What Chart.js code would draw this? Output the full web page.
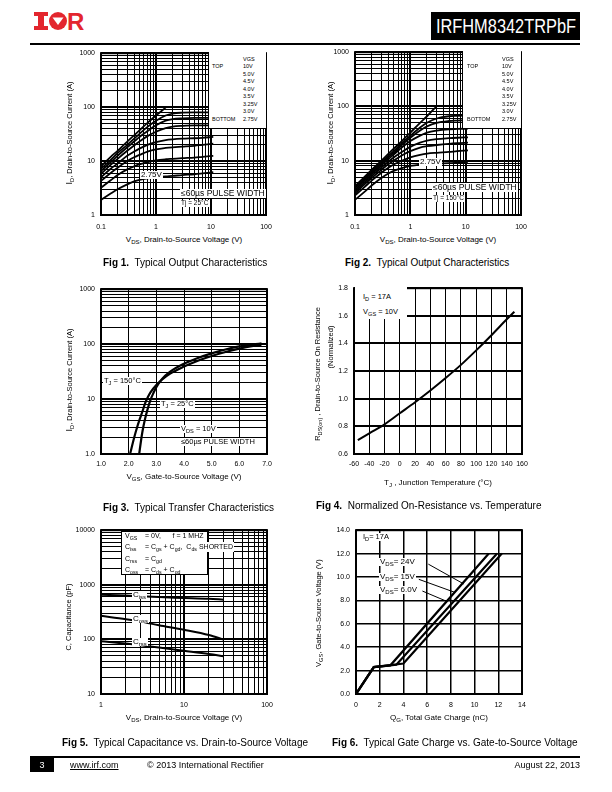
<!DOCTYPE html>
<html><head><meta charset="utf-8">
<script src="https://cdn.jsdelivr.net/npm/chart.js@4.4.0/dist/chart.umd.min.js"></script>
<style>
html,body{margin:0;padding:0;background:#fff;}
body{width:612px;height:792px;position:relative;overflow:hidden;font-family:"Liberation Sans",Arial,Helvetica,sans-serif;color:#000;}
canvas{position:absolute;}
.a{position:absolute;white-space:nowrap;line-height:1;}
sub{font-size:75%;vertical-align:-0.3em;line-height:0;}
.yt{position:absolute;white-space:nowrap;width:200px;height:10px;line-height:10px;text-align:center;font-size:7.5px;transform:rotate(-90deg);transform-origin:100px 5px;}
.xt{position:absolute;white-space:nowrap;width:200px;height:10px;line-height:10px;text-align:center;font-size:8px;}
.wb{background:#fff;padding:0 1px;}
.fig{position:absolute;white-space:nowrap;font-size:10px;line-height:1;}
.lg{position:absolute;white-space:nowrap;font-size:5.5px;line-height:1;}
</style></head>
<body>
<!-- header -->
<svg width="50" height="20" style="position:absolute;left:34px;top:11px">
  <rect x="0" y="1" width="14" height="4" fill="#e3262e"/>
  <rect x="4" y="1" width="6" height="18" fill="#e3262e"/>
  <rect x="0" y="15" width="14" height="4" fill="#e3262e"/>
  <circle cx="24" cy="10" r="9" fill="#e3262e"/>
  <polygon points="18.5,6.5 29.5,6.5 24,14" fill="#fff"/>
  <text x="33" y="19" font-family="Liberation Sans, Arial" font-weight="bold" font-size="24" fill="#e3262e">R</text>
</svg>
<div class="a" style="left:431px;top:12px;width:149px;height:28px;background:#000;overflow:hidden;">
  <span style="position:absolute;left:50%;top:0;color:#fff;font-size:21px;line-height:28px;transform:translateX(-50%) scaleX(0.78);">IRFHM8342TRPbF</span>
</div>
<div class="a" style="left:30px;top:43px;width:550px;height:2px;background:#000"></div>

<canvas id="c1"></canvas><canvas id="c2"></canvas><canvas id="c3"></canvas>
<canvas id="c4"></canvas><canvas id="c5"></canvas><canvas id="c6"></canvas>

<!-- Fig 1 overlays -->
<div class="yt" style="left:-31px;top:128px"><span style="font-size:9px">I</span><sub>D</sub>, Drain-to-Source Current (A)</div>
<div class="xt" style="left:84px;top:235px">V<sub>DS</sub>, Drain-to-Source Voltage (V)</div>
<div id="lg1" class="a" style="left:208px;top:52px;width:57px;height:76px;background:#fff;border-left:1px solid #000;border-bottom:1px solid #000;"></div>
<div class="a wb" style="left:140px;top:171px;font-size:8px">2.75V</div>
<div class="a wb" style="left:180px;top:189px;font-size:8.5px">≤60µs PULSE WIDTH</div>
<div class="a wb" style="left:180px;top:200px;font-size:6.5px">Tj = 25°C</div>
<div class="fig" style="left:103px;top:258px"><b>Fig 1.</b>&nbsp; Typical Output Characteristics</div>

<!-- Fig 2 overlays -->
<div class="yt" style="left:230px;top:128px"><span style="font-size:9px">I</span><sub>D</sub>, Drain-to-Source Current (A)</div>
<div class="xt" style="left:338px;top:235px">V<sub>DS</sub>, Drain-to-Source Voltage (V)</div>
<div id="lg2" class="a" style="left:462px;top:51px;width:58px;height:77px;background:#fff;border-left:1px solid #000;border-bottom:1px solid #000;"></div>
<div class="a wb" style="left:419px;top:158px;font-size:8px">2.75V</div>
<div class="a wb" style="left:432px;top:183px;font-size:8.5px">≤60µs PULSE WIDTH</div>
<div class="a wb" style="left:432px;top:195px;font-size:6.5px">Tj = 150°C</div>
<div class="fig" style="left:345px;top:258px"><b>Fig 2.</b>&nbsp; Typical Output Characteristics</div>

<!-- Fig 3 overlays -->
<div class="yt" style="left:-31px;top:375px"><span style="font-size:9px">I</span><sub>D</sub>, Drain-to-Source Current (A)</div>
<div class="xt" style="left:84px;top:472px">V<sub>GS</sub>, Gate-to-Source Voltage (V)</div>
<div class="a wb" style="left:103px;top:377px;font-size:7.5px">T<sub>J</sub> = 150°C</div>
<div class="a wb" style="left:160px;top:400px;font-size:7.5px">T<sub>J</sub> = 25°C</div>
<div class="a wb" style="left:180px;top:425px;font-size:7.5px">V<sub>DS</sub> = 10V</div>
<div class="a wb" style="left:180px;top:438px;font-size:7.5px">≤60µs PULSE WIDTH</div>
<div class="fig" style="left:103px;top:503px"><b>Fig 3.</b>&nbsp; Typical Transfer Characteristics</div>

<!-- Fig 4 overlays -->
<div class="yt" style="left:218px;top:369px">R<sub>DS(on)</sub> , Drain-to-Source On Resistance</div>
<div class="yt" style="left:231px;top:342px">(Normalized)</div>
<div class="xt" style="left:338px;top:478px">T<sub>J</sub> , Junction Temperature (°C)</div>
<div class="a" style="left:355px;top:287px;width:52px;height:32px;background:#fff"></div>
<div class="a" style="left:363px;top:293px;font-size:7.5px">I<sub>D</sub> = 17A</div>
<div class="a" style="left:363px;top:308px;font-size:7.5px">V<sub>GS</sub> = 10V</div>
<div class="fig" style="left:316px;top:501px"><b>Fig 4.</b>&nbsp; Normalized On-Resistance vs. Temperature</div>

<!-- Fig 5 overlays -->
<div class="yt" style="left:-31px;top:612px">C, Capacitance (pF)</div>
<div class="xt" style="left:84px;top:713px">V<sub>DS</sub>, Drain-to-Source Voltage (V)</div>
<div class="a" style="left:121px;top:531px;width:85px;height:42px;background:#fff;border:1px solid #000;"></div>
<div class="a" style="left:125px;top:532px;font-size:7px">V<sub>GS</sub></div><div class="a" style="left:145px;top:532px;font-size:7px">= 0V,&nbsp;&nbsp;&nbsp;&nbsp;&nbsp; f = 1 MHZ</div>
<div class="a" style="left:125px;top:543px;font-size:7px">C<sub>iss</sub></div><div class="a wb" style="left:145px;top:542px;font-size:7px;padding:1px 1px 2px 0">= C<sub>gs</sub> + C<sub>gd</sub>, &nbsp;C<sub>ds</sub> SHORTED</div>
<div class="a" style="left:125px;top:555px;font-size:7px">C<sub>rss</sub></div><div class="a" style="left:145px;top:555px;font-size:7px">= C<sub>gd</sub></div>
<div class="a" style="left:125px;top:566px;font-size:7px">C<sub>oss</sub></div><div class="a" style="left:145px;top:566px;font-size:7px">= C<sub>ds</sub> + C<sub>gd</sub></div>
<div class="a wb" style="left:132px;top:591px;font-size:8px">C<sub>iss</sub></div>
<div class="a wb" style="left:132px;top:615px;font-size:8px">C<sub>oss</sub></div>
<div class="a wb" style="left:132px;top:638px;font-size:8px">C<sub>rss</sub></div>
<div class="fig" style="left:62px;top:738px"><b>Fig 5.</b>&nbsp; Typical Capacitance vs. Drain-to-Source Voltage</div>

<!-- Fig 6 overlays -->
<div class="yt" style="left:219px;top:608px">V<sub>GS</sub>, Gate-to-Source Voltage (V)</div>
<div class="xt" style="left:339px;top:713px">Q<sub>G</sub>, Total Gate Charge (nC)</div>
<div class="a wb" style="left:362px;top:533px;font-size:7.5px">I<sub>D</sub>= 17A</div>
<div class="a wb" style="left:379px;top:558px;font-size:8px">V<sub>DS</sub>= 24V</div>
<div class="a wb" style="left:379px;top:573px;font-size:8px">V<sub>DS</sub>= 15V</div>
<div class="a wb" style="left:379px;top:586px;font-size:8px">V<sub>DS</sub>= 6.0V</div>
<div class="fig" style="left:332px;top:738px"><b>Fig 6.</b>&nbsp; Typical Gate Charge vs. Gate-to-Source Voltage</div>

<!-- footer -->
<div class="a" style="left:30px;top:756px;width:550px;height:2px;background:#000"></div>
<div class="a" style="left:30px;top:758px;width:24px;height:14px;background:#000;color:#fff;font-size:9px;line-height:14px;text-align:center">3</div>
<div class="a" style="left:70px;top:761px;font-size:9px;text-decoration:underline">www.irf.com</div>
<div class="a" style="left:147px;top:761px;font-size:9px">© 2013 International Rectifier</div>
<div class="a" style="right:32px;top:761px;font-size:9px">August 22, 2013</div>

<script>
const FONT = '"Liberation Sans", Arial, sans-serif';

// ---------- Fig 1 : Typical output characteristics, Tj = 25°C ----------
const fig1Vds   = [0.1, 0.15, 0.2, 0.3, 0.4, 0.5, 0.7, 1, 1.5, 2, 3, 5, 7, 11];
const fig1Id10V  = [8, 12, 15.5, 23, 30, 37, 51, 70, 98, null, null, null, null, null];
const fig1Id5V   = [7.2, 10.5, 14, 20, 26, 32, 43, 56, 70, 76, 79, 80, 80, 80];
const fig1Id4V5  = [6.5, 9.5, 12.5, 18, 23, 28, 36, 46, 56, 60, 62, 63, 63, 63];
const fig1Id4V   = [5.8, 8.5, 11, 15.5, 19.5, 23, 29, 35, 41, 43.5, 45, 46, 46, 46];
const fig1Id3V5  = [5.0, 7.2, 9, 12.5, 15, 17, 20, 22.5, 24.5, 25.3, 26, 26.5, 27, 28];
const fig1Id3V25 = [4.3, 6.0, 7.5, 10, 11.8, 13, 15, 16.5, 17.5, 18, 18.5, 19.2, 20, 21];
const fig1Id3V   = [3.2, 4.4, 5.5, 7, 8, 8.7, 9.5, 10.3, 10.8, 11, 11.3, 11.6, 12, 12.5];
const fig1Id2V75 = [1.9, 2.5, 3.0, 3.7, 4.2, 4.5, 4.8, 5.0, 5.2, 5.3, 5.5, 5.7, 5.9, 6.2];

// ---------- Fig 2 : Typical output characteristics, Tj = 150°C ----------
const fig2Vds   = [0.1, 0.15, 0.2, 0.3, 0.4, 0.5, 0.7, 1, 1.5, 2, 3, 5, 7, 11];
const fig2Id10V  = [3.4, 5.1, 6.8, 10, 13.4, 16.7, 23, 33, 50, 66, 102, null, null, null];
const fig2Id5V   = [3.2, 4.8, 6.3, 9.3, 12.3, 15, 21, 29, 41, 50, 60, 66, 67, 68];
const fig2Id4V5  = [3.1, 4.6, 6.0, 8.8, 11.5, 14, 19.5, 26.5, 36, 43, 50, 54, 55, 56];
const fig2Id4V   = [2.9, 4.3, 5.6, 8.2, 10.7, 13, 17.5, 23, 29, 33, 36, 38, 38.5, 39];
const fig2Id3V5  = [2.7, 4.0, 5.2, 7.5, 9.6, 11.5, 14.5, 18, 21.5, 23.5, 25, 26, 26.5, 27];
const fig2Id3V25 = [2.5, 3.7, 4.8, 6.8, 8.6, 10, 12.5, 15, 17.5, 18.5, 19.5, 20.5, 21, 21.5];
const fig2Id3V   = [2.3, 3.3, 4.3, 6, 7.4, 8.5, 10, 11.5, 12.8, 13.5, 14, 14.5, 15, 15.5];
const fig2Id2V75 = [1.9, 2.7, 3.5, 4.8, 5.8, 6.5, 7.3, 8, 8.5, 8.7, 8.8, 9, 9.2, 9.5];

const vgsLegend = ['10V', '5.0V', '4.5V', '4.0V', '3.5V', '3.25V', '3.0V', '2.75V'];

// ---------- Fig 3 : Typical transfer characteristics ----------
const fig3Vgs25  = [2.38, 2.45, 2.5, 2.6, 2.7, 2.8, 2.9, 3.0, 3.2, 3.5, 4.0, 4.5, 5.0, 5.5, 6.0, 6.5, 6.8];
const fig3Id25   = [1, 1.8, 2.6, 4.5, 7, 10, 13, 16.5, 23, 31.5, 44, 56, 68, 80, 91, 99, 103];
const fig3Vgs150 = [2.05, 2.2, 2.3, 2.4, 2.5, 2.6, 2.7, 2.8, 3.0, 3.2, 3.5, 4.0, 4.5, 5.0, 5.5, 6.0, 6.5, 6.8];
const fig3Id150  = [1, 2.0, 3.0, 4.3, 6, 8.5, 11, 13.5, 18, 22.5, 29, 39, 50, 61, 72, 83, 93, 98];

// ---------- Fig 4 : Normalized on-resistance vs temperature ----------
const fig4Tj  = [-55, -40, -20, 0, 20, 40, 60, 80, 100, 120, 140, 150];
const fig4Rds = [0.70, 0.75, 0.815, 0.895, 0.975, 1.06, 1.15, 1.245, 1.35, 1.46, 1.575, 1.63];

// ---------- Fig 5 : Capacitance vs VDS ----------
const fig5Vds  = [1, 2, 3, 5, 10, 20, 30];
const fig5Ciss = [660, 635, 615, 595, 575, 555, 535];
const fig5Coss = [270, 235, 212, 182, 150, 120, 99];
const fig5Crss = [93, 84, 78, 71, 62, 54, 49];

// ---------- Fig 6 : Gate charge ----------
const fig6Q24 = [0, 1.5, 2.9, 11.2];  const fig6V24 = [0, 2.3, 2.45, 12];
const fig6Q15 = [0, 1.5, 3.4, 11.9];  const fig6V15 = [0, 2.3, 2.5, 12];
const fig6Q6  = [0, 1.5, 4.0, 12.3];  const fig6V6  = [0, 2.3, 2.6, 12];
const fig6Lead24Q = [6.1, 9.1]; const fig6Lead24V = [11.1, 9.4];
const fig6Lead15Q = [5.3, 8.3]; const fig6Lead15V = [9.8, 8.7];
const fig6Lead6Q  = [5.6, 7.7]; const fig6Lead6V  = [8.8, 7.9];

// ---------- tick labels ----------
const fig1XTicks = [0.1, 1, 10, 100];   const fig1YTicks = [1, 10, 100, 1000];
const fig3XTicks = [1, 2, 3, 4, 5, 6, 7]; const fig3YTicks = [1, 10, 100, 1000];
const fig4XTicks = [-60, -40, -20, 0, 20, 40, 60, 80, 100, 120, 140, 160];
const fig4YTicks = [0.6, 0.8, 1.0, 1.2, 1.4, 1.6, 1.8];
const fig5XTicks = [1, 10, 100];        const fig5YTicks = [10, 100, 1000, 10000];
const fig6XTicks = [0, 2, 4, 6, 8, 10, 12, 14];
const fig6YTicks = [0, 2, 4, 6, 8, 10, 12, 14];

// ---------- helpers ----------
function logGrid(min, max) {
  const out = [];
  for (let d = min; d < max * 0.999; d *= 10) for (let k = 1; k < 10; k++) out.push(+(d * k).toPrecision(6));
  out.push(max); return out;
}
const isDecade = v => { const l = Math.log10(v); return Math.abs(l - Math.round(l)) < 1e-6; };

function axis(o) {
  return {
    type: o.type, position: o.pos, min: o.min, max: o.max,
    afterBuildTicks: s => { s.ticks = o.grid.map(v => ({ value: v })); },
    afterFit: s => { if (o.pos === 'bottom') s.height = o.size; else s.width = o.size; },
    ticks: {
      autoSkip: false, maxRotation: 0, minRotation: 0, padding: o.pad, color: '#000',
      font: { family: FONT, size: 7 },
      callback: v => {
        const hit = o.labels.find(l => Math.abs(l - v) < 1e-6 * Math.max(1, Math.abs(l)));
        return hit === undefined ? '' : o.fmt(hit);
      }
    },
    grid: { color: '#000', lineWidth: ctx => o.lw(ctx.tick ? ctx.tick.value : 0), drawTicks: false, tickLength: 0 },
    border: { display: false }
  };
}
function series(xs, ys, w, smooth) {
  const data = [];
  xs.forEach((x, i) => { if (ys[i] != null) data.push({ x, y: ys[i] }); });
  return { data, borderColor: '#000', borderWidth: w, pointRadius: 0, fill: false,
           tension: smooth ? 0.4 : 0, cubicInterpolationMode: smooth ? 'monotone' : 'default' };
}
const frame = {
  id: 'frame',
  afterDraw(chart) {
    const a = chart.chartArea, c = chart.ctx;
    c.save(); c.strokeStyle = '#000'; c.lineWidth = 2;
    c.strokeRect(a.left, a.top, a.right - a.left, a.bottom - a.top); c.restore();
  }
};
function make(id, box, cfg) {
  const cv = document.getElementById(id);
  const yw = 30, xh = 20, pt = 8, pr = 14;
  const W = box.w + yw + pr, H = box.h + pt + xh;
  cv.width = W; cv.height = H;
  cv.style.left = (box.l - yw) + 'px'; cv.style.top = (box.t - pt) + 'px';
  cv.style.width = W + 'px'; cv.style.height = H + 'px';
  cfg.x.size = xh; cfg.y.size = yw;
  return new Chart(cv, {
    type: 'line',
    data: { datasets: cfg.datasets },
    options: {
      responsive: false, animation: false, devicePixelRatio: 1, events: [],
      layout: { padding: { top: pt, right: pr, left: 0, bottom: 0 } },
      plugins: { legend: { display: false }, tooltip: { enabled: false } },
      scales: { x: axis(cfg.x), y: axis(cfg.y) }
    },
    plugins: [frame]
  });
}
const fmtPlain = v => String(v);
const fmtOne = v => v.toFixed(1);
const logLw = v => isDecade(v) ? 2 : 1;

// Fig 1
make('c1', { l: 101, t: 51, w: 165, h: 164 }, {
  x: { type: 'logarithmic', pos: 'bottom', min: 0.1, max: 100, grid: logGrid(0.1, 100), labels: fig1XTicks, fmt: fmtPlain, lw: logLw, pad: 8 },
  y: { type: 'logarithmic', pos: 'left', min: 1, max: 1000, grid: logGrid(1, 1000), labels: fig1YTicks, fmt: fmtPlain, lw: logLw, pad: 6 },
  datasets: [fig1Id10V, fig1Id5V, fig1Id4V5, fig1Id4V, fig1Id3V5, fig1Id3V25, fig1Id3V, fig1Id2V75].map(s => series(fig1Vds, s, 1.8, true))
});
// Fig 2
make('c2', { l: 355, t: 50, w: 166, h: 165 }, {
  x: { type: 'logarithmic', pos: 'bottom', min: 0.1, max: 100, grid: logGrid(0.1, 100), labels: fig1XTicks, fmt: fmtPlain, lw: logLw, pad: 8 },
  y: { type: 'logarithmic', pos: 'left', min: 1, max: 1000, grid: logGrid(1, 1000), labels: fig1YTicks, fmt: fmtPlain, lw: logLw, pad: 6 },
  datasets: [fig2Id10V, fig2Id5V, fig2Id4V5, fig2Id4V, fig2Id3V5, fig2Id3V25, fig2Id3V, fig2Id2V75].map(s => series(fig2Vds, s, 1.8, true))
});
// Fig 3
make('c3', { l: 101, t: 287, w: 166, h: 167 }, {
  x: { type: 'linear', pos: 'bottom', min: 1, max: 7, grid: fig3XTicks, labels: fig3XTicks, fmt: fmtOne, lw: v => 1, pad: 6 },
  y: { type: 'logarithmic', pos: 'left', min: 1, max: 1000, grid: logGrid(1, 1000), labels: fig3YTicks, fmt: v => v === 1 ? '1.0' : String(v), lw: logLw, pad: 6 },
  datasets: [series(fig3Vgs25, fig3Id25, 2.2, true), series(fig3Vgs150, fig3Id150, 2.2, true)]
});
// Fig 4
make('c4', { l: 354, t: 286, w: 168, h: 168 }, {
  x: { type: 'linear', pos: 'bottom', min: -60, max: 160, grid: fig4XTicks, labels: fig4XTicks, fmt: fmtPlain, lw: v => 1, pad: 6 },
  y: { type: 'linear', pos: 'left', min: 0.6, max: 1.8, grid: fig4YTicks, labels: fig4YTicks, fmt: fmtOne, lw: v => 2, pad: 6 },
  datasets: [series(fig4Tj, fig4Rds, 2, true)]
});
// Fig 5
make('c5', { l: 101, t: 528, w: 166, h: 166 }, {
  x: { type: 'logarithmic', pos: 'bottom', min: 1, max: 100, grid: logGrid(1, 100), labels: fig5XTicks, fmt: fmtPlain, lw: logLw, pad: 7 },
  y: { type: 'logarithmic', pos: 'left', min: 10, max: 10000, grid: logGrid(10, 10000), labels: fig5YTicks, fmt: fmtPlain, lw: logLw, pad: 6 },
  datasets: [series(fig5Vds, fig5Ciss, 2, true), series(fig5Vds, fig5Coss, 2, true), series(fig5Vds, fig5Crss, 2, true)]
});
// Fig 6
make('c6', { l: 356, t: 528, w: 166, h: 166 }, {
  x: { type: 'linear', pos: 'bottom', min: 0, max: 14, grid: fig6XTicks, labels: fig6XTicks, fmt: fmtPlain, lw: v => 1.5, pad: 7 },
  y: { type: 'linear', pos: 'left', min: 0, max: 14, grid: fig6YTicks, labels: fig6YTicks, fmt: fmtOne, lw: v => 1.5, pad: 6 },
  datasets: [
    series(fig6Q24, fig6V24, 2.2, false), series(fig6Q15, fig6V15, 2.2, false), series(fig6Q6, fig6V6, 2.2, false),
    series(fig6Lead24Q, fig6Lead24V, 1, false), series(fig6Lead15Q, fig6Lead15V, 1, false), series(fig6Lead6Q, fig6Lead6V, 1, false)
  ]
});

// legend lists inside Fig 1 / Fig 2
function legendRows(colLeft, valLeft, top0) {
  const rows = [['', 'VGS']].concat(vgsLegend.map((v, i) => [i === 0 ? 'TOP' : (i === vgsLegend.length - 1 ? 'BOTTOM' : ''), v]));
  rows.forEach((r, i) => {
    const y = top0 + i * 7.5;
    if (r[0]) { const d = document.createElement('div'); d.className = 'lg'; d.style.left = colLeft + 'px'; d.style.top = y + 'px'; d.textContent = r[0]; document.body.appendChild(d); }
    const e = document.createElement('div'); e.className = 'lg'; e.style.left = valLeft + 'px'; e.style.top = y + 'px'; e.textContent = r[1]; document.body.appendChild(e);
  });
}
legendRows(212, 243, 56.5);
legendRows(467, 502, 56.5);
</script>
</body></html>
